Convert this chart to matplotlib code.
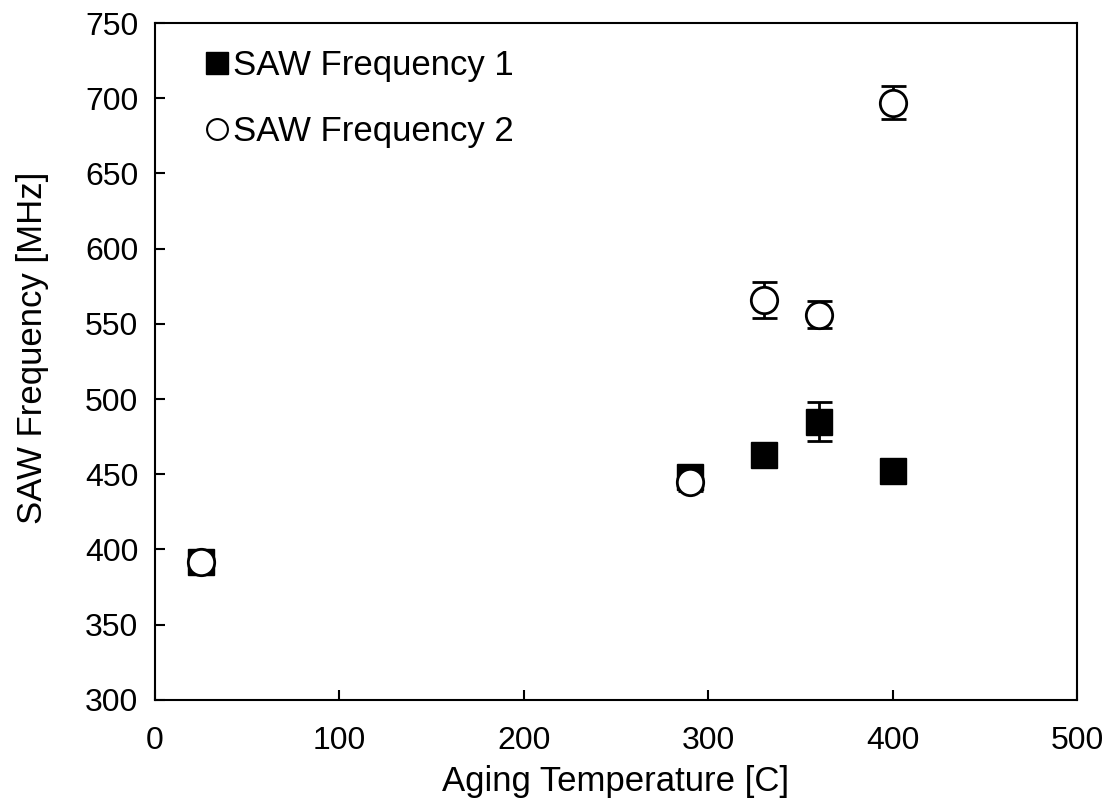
import numpy as np
import matplotlib as mpl
import matplotlib.pyplot as plt
from matplotlib.lines import Line2D

# Aging temperature [C] and measured SAW frequencies [MHz]
temp = [25, 290, 330, 360, 400]
freq1 = [392, 448, 463, 485, 452]
err1 = [0, 0, 0, 13, 0]
freq2 = [392, 445, 566, 556, 697]
err2 = [0, 6, 12, 9, 11]

mpl.rc("font", family="Liberation Sans", size=23)

fig = plt.figure(figsize=(11.12, 8.11), dpi=100)
ax = fig.add_axes([0.1394, 0.137, 0.8291, 0.8346])

ax.errorbar(temp, freq1, yerr=err1, fmt="s", color="black", ms=19,
            capsize=9, elinewidth=2, capthick=2, zorder=3)
ax.errorbar(temp, freq2, yerr=err2, fmt="o", mfc="white", mec="black", mew=2,
            color="black", ms=19, capsize=9, elinewidth=2, capthick=2, zorder=4)

ax.set_xlim(0, 500)
ax.set_ylim(300, 750)
ax.set_xticks(np.arange(0, 501, 100))
ax.set_yticks(np.arange(300, 751, 50))
ax.tick_params(direction="in", length=7, width=1.5, labelsize=23)
ax.tick_params(axis="x", pad=19)
ax.tick_params(axis="y", pad=12)
for sp in ax.spines.values():
    sp.set_linewidth(1.5)

ax.set_xlabel("Aging Temperature [C]", fontsize=25, labelpad=6)
ax.set_ylabel("SAW Frequency [MHz]", fontsize=25)
ax.yaxis.set_label_coords(-0.115, 0.52)

# legend shows plain markers only
h1 = Line2D([], [], ls="none", marker="s", color="black", ms=16)
h2 = Line2D([], [], ls="none", marker="o", mfc="white", mec="black", mew=1.5, ms=15)
leg = ax.legend([h1, h2], ["SAW Frequency 1", "SAW Frequency 2"],
                loc="upper left", frameon=False, fontsize=25,
                handlelength=0.7, handletextpad=0.1, labelspacing=0.95,
                borderaxespad=0.0, borderpad=0.0,
                bbox_to_anchor=(0.054, 0.962))

fig.savefig("out.png", dpi=100)
